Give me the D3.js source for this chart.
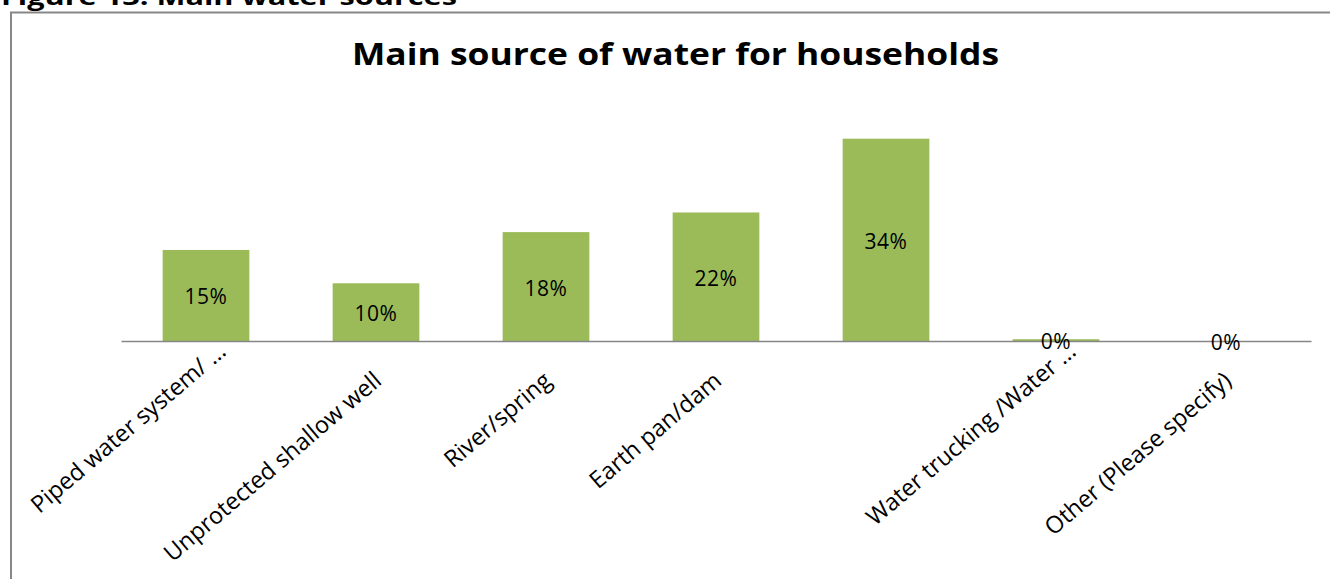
<!DOCTYPE html>
<html>
<head>
<meta charset="utf-8">
<script src="https://cdn.jsdelivr.net/npm/d3@7"></script>
<style>
  html, body { margin: 0; padding: 0; background: #fff; }
  svg { display: block; }
  text { font-family: "Open Sans", "DejaVu Sans", sans-serif; }
</style>
</head>
<body>
<svg id="chart" width="1330" height="579"></svg>
<script>
// ---- data ----
const categories = [
  "Piped water system/ \u2026",
  "Unprotected shallow well",
  "River/spring",
  "Earth pan/dam",
  "",
  "Water trucking /Water \u2026",
  "Other (Please specify)"
];
const values = [0.153, 0.097, 0.183, 0.216, 0.34, 0.003, 0.0];
const chartTitle = "Main source of water for households";
const figureCaption = "Figure 13: Main water sources";

// ---- layout ----
const W = 1330, H = 579;
const svg = d3.select("#chart");
const axisY = 341;
const x = d3.scaleBand().domain(d3.range(categories.length)).range([121, 1311]).paddingInner(0.49).paddingOuter(0.245);
const y = d3.scaleLinear().domain([0, 0.4]).range([axisY, axisY - 0.4 * 595]);
const pct = d3.format(".0%");

// figure caption (cut off at top)
svg.append("text")
  .attr("x", 1).attr("y", 5)
  .attr("font-size", 24).attr("font-weight", "bold").attr("fill", "#000")
  .attr("textLength", 456).attr("lengthAdjust", "spacingAndGlyphs")
  .text(figureCaption);

// chart border (only top and left visible)
svg.append("path")
  .attr("d", `M11,${H + 2} V12.5 H${W + 2}`)
  .attr("fill", "none").attr("stroke", "#878787").attr("stroke-width", 2);

// title
svg.append("text")
  .attr("x", 352).attr("y", 65)
  .attr("font-size", 31).attr("font-weight", "bold").attr("fill", "#000")
  .attr("textLength", 647).attr("lengthAdjust", "spacingAndGlyphs")
  .text(chartTitle);

// bars
svg.append("g").selectAll("rect")
  .data(values)
  .join("rect")
  .attr("x", (d, i) => x(i))
  .attr("width", x.bandwidth())
  .attr("y", d => y(d))
  .attr("height", d => Math.max(0, y(0) - y(d)))
  .attr("fill", "#9BBB59");

// axis line
const xAxis = d3.axisBottom(x).tickSize(0).tickFormat(() => "");
const gx = svg.append("g").attr("transform", `translate(0,${axisY})`).call(xAxis);
gx.select(".domain").attr("stroke", "#868686").attr("stroke-width", 1.5);

// category labels (truncated labels sit half a line higher, as in the source)
svg.append("g").selectAll("text")
  .data(categories)
  .join("text")
  .attr("text-anchor", "end")
  .attr("font-size", 23.5)
  .attr("fill", "#000")
  .attr("transform", (d, i) => `translate(${x(i) + x.bandwidth() / 2 + 7},${axisY + 42}) rotate(-40.5)`)
  .attr("dx", d => d.endsWith("\u2026") ? 30 : 0)
  .attr("dy", d => d.endsWith("\u2026") ? -13 : 0)
  .text(d => d);

// data labels
svg.append("g").selectAll("text")
  .data(values)
  .join("text")
  .attr("text-anchor", "middle")
  .attr("font-size", 21)
  .attr("letter-spacing", 0.6)
  .attr("fill", "#000")
  .attr("x", (d, i) => x(i) + x.bandwidth() / 2)
  .attr("y", d => (y(d) + y(0)) / 2 + 9)
  .text(d => pct(d));
</script>
</body>
</html>
